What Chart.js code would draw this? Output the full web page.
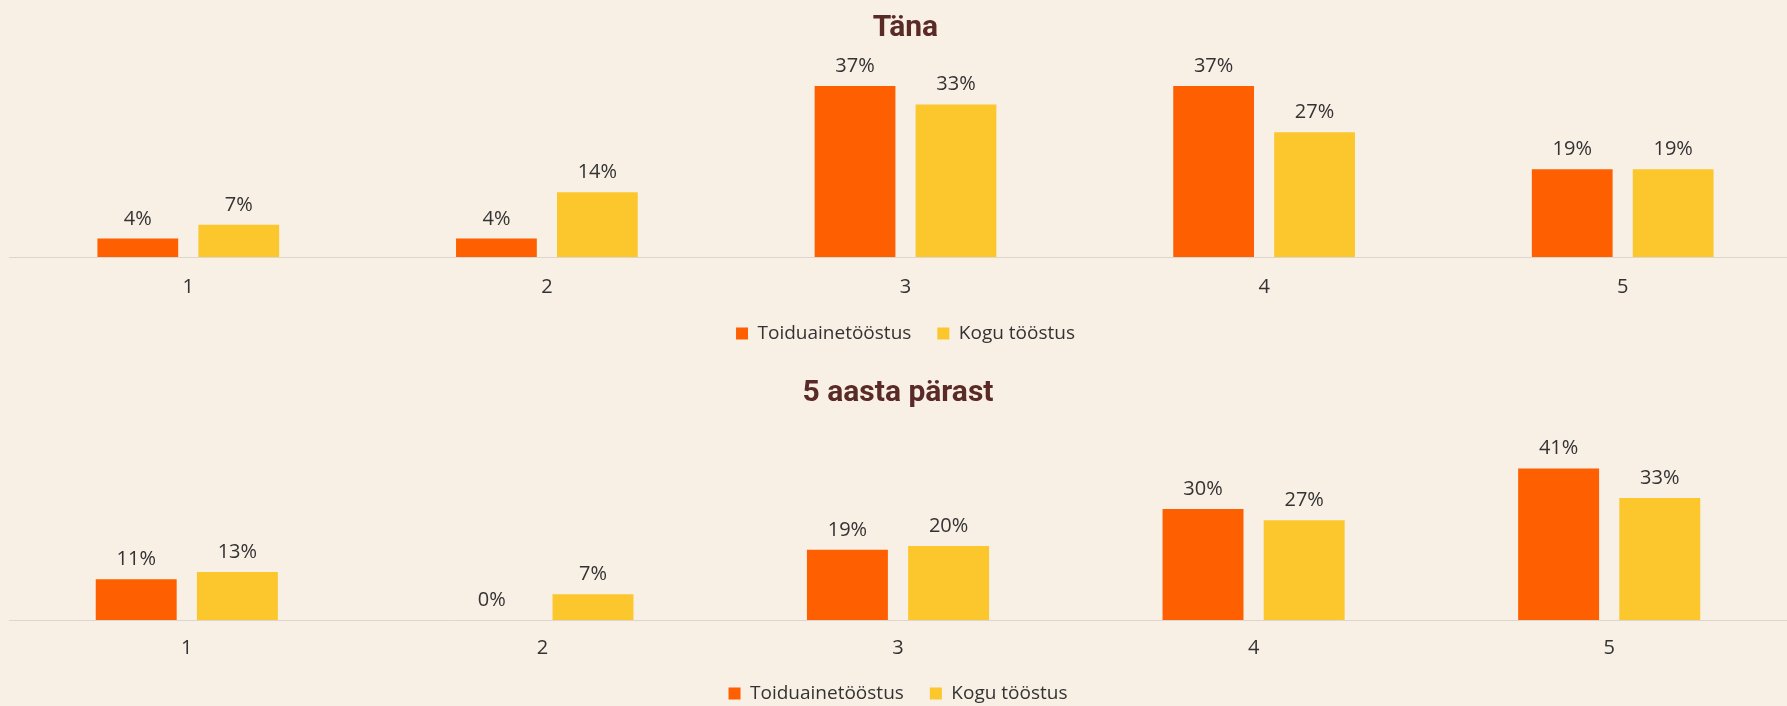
<!DOCTYPE html>
<html>
<head>
<meta charset="utf-8">
<script src="https://cdn.jsdelivr.net/npm/chart.js@4"></script>
<style>
  html, body { margin: 0; padding: 0; background: #f8efe5; overflow: hidden; width: 1787px; height: 706px; }
  .box { position: absolute; left: 0; height: 353px; }
  #boxNow { top: 0; width: 1802px; }
  #boxLater { top: 360px; width: 1787px; }
</style>
</head>
<body>
<div class="box" id="boxNow"><canvas id="chartNow"></canvas></div>
<div class="box" id="boxLater"><canvas id="chartLater"></canvas></div>
<script>
const categories = ['1', '2', '3', '4', '5'];
const seriesNames = ['Toiduainetööstus', 'Kogu tööstus'];

// Täna
const foodNow = [4, 4, 37, 37, 19];
const allNow = [7, 14, 33, 27, 19];

// 5 aasta pärast
const foodLater = [11, 0, 19, 30, 41];
const allLater = [13, 7, 20, 27, 33];

const orange = '#fe5f00';
const yellow = '#fcc72c';

// value labels above the bars
const barLabels = {
    id: 'barLabels',
    afterDatasetsDraw(chart) {
        const ctx = chart.ctx;
        ctx.save();
        ctx.font = '20px "Open Sans"';
        ctx.fillStyle = '#333333';
        ctx.textAlign = 'center';
        ctx.textBaseline = 'alphabetic';
        chart.data.datasets.forEach((ds, i) => {
            chart.getDatasetMeta(i).data.forEach((bar, j) => {
                ctx.fillText(ds.data[j] + '%', bar.x, bar.y - 14);
            });
        });
        ctx.restore();
    }
};

function makeChart(id, title, food, all, cfg) {
    return new Chart(document.getElementById(id), {
        type: 'bar',
        data: {
            labels: categories,
            datasets: [
                { label: seriesNames[0], data: food, backgroundColor: orange },
                { label: seriesNames[1], data: all, backgroundColor: yellow }
            ]
        },
        options: {
            responsive: true,
            maintainAspectRatio: false,
            animation: false,
            layout: { padding: { left: 9, right: 0, top: 0, bottom: 0 } },
            datasets: { bar: { barPercentage: 0.8, categoryPercentage: cfg.catPct } },
            scales: {
                x: {
                    grid: { display: false, drawTicks: false },
                    border: { display: true, color: '#ddd6cf', width: 1 },
                    ticks: { color: '#333333', font: { family: 'Open Sans', size: 20 }, padding: cfg.tickPad },
                    afterFit: (axis) => { axis.height = cfg.axisHeight; }
                },
                y: { display: false, min: 0, max: cfg.yMax }
            },
            plugins: {
                title: {
                    display: true,
                    text: title,
                    color: '#5a2a27',
                    font: { family: 'Roboto', size: 30, weight: 'bold' },
                    padding: { top: cfg.titleTop, bottom: cfg.titleBottom }
                },
                legend: {
                    position: 'bottom',
                    labels: {
                        boxWidth: 12,
                        boxHeight: 12,
                        padding: 26,
                        color: '#333333',
                        font: { family: 'Open Sans', size: 19 }
                    }
                },
                tooltip: { enabled: false }
            }
        },
        plugins: [barLabels]
    });
}

makeChart('chartNow', 'Täna', foodNow, allNow,
    { yMax: 45, catPct: 0.563, titleTop: 10, titleBottom: 3, tickPad: 18, axisHeight: 41 });
makeChart('chartLater', '5 aasta pärast', foodLater, allLater,
    { yMax: 56, catPct: 0.569, titleTop: 15, titleBottom: 2, tickPad: 16, axisHeight: 38 });
</script>
</body>
</html>
